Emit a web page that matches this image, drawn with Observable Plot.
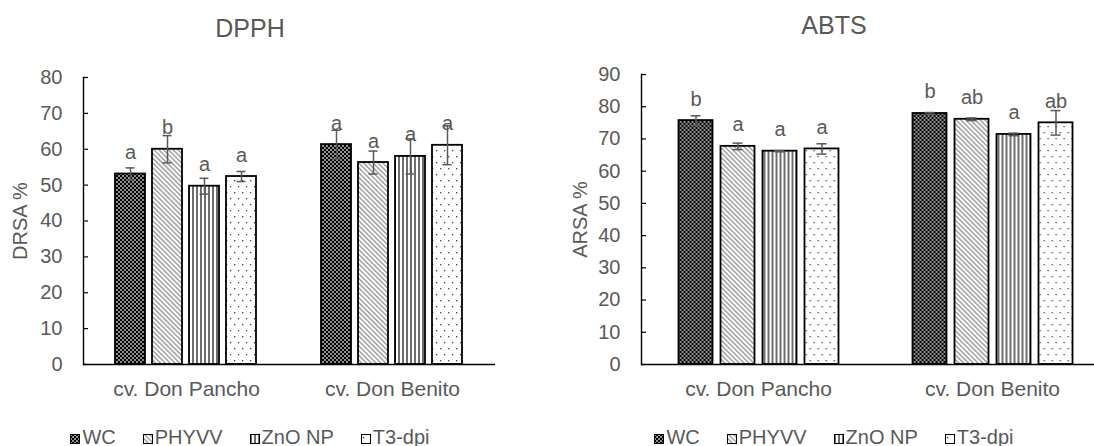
<!DOCTYPE html>
<html>
<head>
<meta charset="utf-8">
<script src="https://cdn.jsdelivr.net/npm/d3@7"></script>
<script src="https://cdn.jsdelivr.net/npm/@observablehq/plot@0.6"></script>
<style>
  body { margin: 0; width: 1094px; height: 446px; overflow: hidden; background: #fff;
         font-family: "Liberation Sans", Arial, sans-serif; position: relative; }
  .panel { position: absolute; top: 0; height: 446px; }
  .title { position: absolute; left: 0; right: 0; text-align: center; font-size: 25px;
           line-height: 25px; color: #595959; }
  .chart { position: absolute; left: 0; top: 45px; }
  .legend { position: absolute; left: 0; right: 0; top: 429px; height: 16px; display: flex;
            justify-content: center; gap: 27px; font-size: 20px; line-height: 16px; color: #595959; }
  .legend .item { display: inline-flex; align-items: flex-end; gap: 2px; height: 16px; }
  .legend svg { display: block; margin-bottom: 1px; }
</style>
</head>
<body>
<svg width="0" height="0" style="position:absolute">
  <defs>
    <!-- dense black checkerboard with small white squares -->
    <pattern id="pat-wc" width="4" height="4" patternUnits="userSpaceOnUse">
      <rect width="4" height="4" fill="#000"/>
      <rect x="0.25" y="0.25" width="1.5" height="1.5" fill="#fff"/>
      <rect x="2.25" y="2.25" width="1.5" height="1.5" fill="#fff"/>
    </pattern>
    <!-- light grey downward diagonals -->
    <pattern id="pat-phyvv" width="3.4" height="3.4" patternUnits="userSpaceOnUse" patternTransform="rotate(-45)">
      <rect width="3.4" height="3.4" fill="#fff"/>
      <rect width="1.5" height="3.4" fill="#9f9f9f"/>
    </pattern>
    <!-- dark grey vertical stripes -->
    <pattern id="pat-zno" width="4" height="4" patternUnits="userSpaceOnUse">
      <rect width="4" height="4" fill="#fff"/>
      <rect width="2" height="4" fill="#6e6e6e"/>
    </pattern>
    <!-- sparse dots -->
    <pattern id="pat-t3" width="8" height="12" patternUnits="userSpaceOnUse">
      <rect width="8" height="12" fill="#fff"/>
      <rect x="2" y="3" width="1.3" height="1.3" fill="#444"/>
      <rect x="6" y="9" width="1.3" height="1.3" fill="#444"/>
    </pattern>
  </defs>
</svg>

<div class="panel" id="left" style="left:0;width:500px;">
  <div class="title" style="top:16px;">DPPH</div>
  <div class="chart"></div>
  <div class="legend"></div>
</div>
<div class="panel" id="right" style="left:559px;width:550px;">
  <div class="title" style="top:13px;">ABTS</div>
  <div class="chart"></div>
  <div class="legend"></div>
</div>

<script>
// Cultivars and treatments
const categories = ["cv. Don Pancho", "cv. Don Benito"];
const series = ["WC", "PHYVV", "ZnO NP", "T3-dpi"];
const patterns = ["pat-wc", "pat-phyvv", "pat-zno", "pat-t3"];

// DPPH radical scavenging activity (%), per cultivar in treatment order
const dpphPancho = [53.1, 60.0, 49.7, 52.4];
const dpphBenito = [61.3, 56.3, 58.0, 61.1];
const dpphErrPancho = [1.7, 3.8, 2.2, 1.4];
const dpphErrBenito = [4.0, 3.2, 4.9, 5.4];
const dpphLetterPancho = ["a", "b", "a", "a"];
const dpphLetterBenito = ["a", "a", "a", "a"];

// ABTS radical scavenging activity (%)
const abtsPancho = [75.7, 67.7, 66.2, 66.9];
const abtsBenito = [77.9, 76.1, 71.4, 75.0];
const abtsErrPancho = [1.5, 1.0, 0.2, 1.6];
const abtsErrBenito = [0.3, 0.4, 0.4, 3.8];
const abtsLetterPancho = ["b", "a", "a", "a"];
const abtsLetterBenito = ["b", "ab", "a", "ab"];

const yTicksDpph = [0, 10, 20, 30, 40, 50, 60, 70, 80];
const yTicksAbts = [0, 10, 20, 30, 40, 50, 60, 70, 80, 90];

const grey = "#595959";
const font = "'Liberation Sans', Arial, sans-serif";

function rowsOf(values, errors, letters) {
  return categories.flatMap((c, i) => series.map((s, j) => ({
    category: c, series: s, value: values[i][j], err: errors[i][j], letter: letters[i][j]
  })));
}

function chart(rows, o) {
  return Plot.plot({
    width: o.width, height: 355,
    marginLeft: o.marginLeft, marginRight: o.marginRight, marginTop: o.marginTop, marginBottom: 36,
    style: {fontFamily: font, fontSize: "20px", color: grey, background: "transparent", overflow: "visible"},
    fx: {domain: categories, paddingInner: 0, paddingOuter: 0, label: null},
    x: {domain: series, paddingInner: o.paddingInner, paddingOuter: o.paddingOuter, axis: null},
    y: {domain: [0, o.yTicks[o.yTicks.length - 1]], axis: null},
    color: {domain: series, range: patterns.map(p => `url(#${p})`)},
    marks: [
      Plot.barY(rows, {fx: "category", x: "series", y: "value", fill: "series", stroke: "#000", strokeWidth: 1.8}),
      Plot.ruleX(rows, {fx: "category", x: "series", y1: d => d.value - d.err, y2: d => d.value + d.err,
                        stroke: grey, strokeWidth: 1.5}),
      Plot.tickY(rows, {fx: "category", x: "series", y: d => d.value + d.err,
                        insetLeft: o.capInset, insetRight: o.capInset, stroke: grey, strokeWidth: 1.5}),
      Plot.tickY(rows, {fx: "category", x: "series", y: d => d.value - d.err,
                        insetLeft: o.capInset, insetRight: o.capInset, stroke: grey, strokeWidth: 1.5}),
      Plot.text(rows, {fx: "category", x: "series", y: "value", text: "letter", lineAnchor: "bottom",
                       dy: -15, fill: grey, fontSize: 20}),
      Plot.ruleY([0], {stroke: "#000", strokeWidth: 1.4}),
      Plot.frame({anchor: "left", facetAnchor: "left", stroke: "#000", strokeWidth: 1.4}),
      Plot.axisY({ticks: o.yTicks, tickSize: -5, tickPadding: 26, stroke: "#000", strokeWidth: 1.2,
                  fill: grey, fontSize: 20, label: o.yLabel, labelAnchor: "center", labelArrow: "none",
                  labelOffset: o.labelOffset}),
      Plot.axisFx({anchor: "bottom", tickSize: 0, tickPadding: 17, fill: grey, fontSize: 21, label: null})
    ]
  });
}

function legend(el) {
  series.forEach((s, i) => {
    const item = el.append("span").attr("class", "item");
    const sw = item.append("svg").attr("width", 10).attr("height", 10);
    sw.append("rect").attr("x", 0.5).attr("y", 0.5).attr("width", 9).attr("height", 9)
      .attr("fill", `url(#${patterns[i]})`).attr("stroke", "#000").attr("stroke-width", 1);
    item.append("span").text(s);
  });
}

document.querySelector("#left .chart").append(chart(
  rowsOf([dpphPancho, dpphBenito], [dpphErrPancho, dpphErrBenito], [dpphLetterPancho, dpphLetterBenito]),
  {width: 500, marginLeft: 83, marginRight: 5, marginTop: 32, paddingInner: 0.178, paddingOuter: 0.82,
   capInset: 10.5, yTicks: yTicksDpph, yLabel: "DRSA %", labelOffset: 71}
));
document.querySelector("#right .chart").append(chart(
  rowsOf([abtsPancho, abtsBenito], [abtsErrPancho, abtsErrBenito], [abtsLetterPancho, abtsLetterBenito]),
  {width: 550, marginLeft: 81.5, marginRight: 0.5, marginTop: 29, paddingInner: 0.2, paddingOuter: 0.854,
   capInset: 12, yTicks: yTicksAbts, yLabel: "ARSA %", labelOffset: 69}
));
legend(d3.select("#left .legend"));
legend(d3.select("#right .legend"));
</script>
</body>
</html>
